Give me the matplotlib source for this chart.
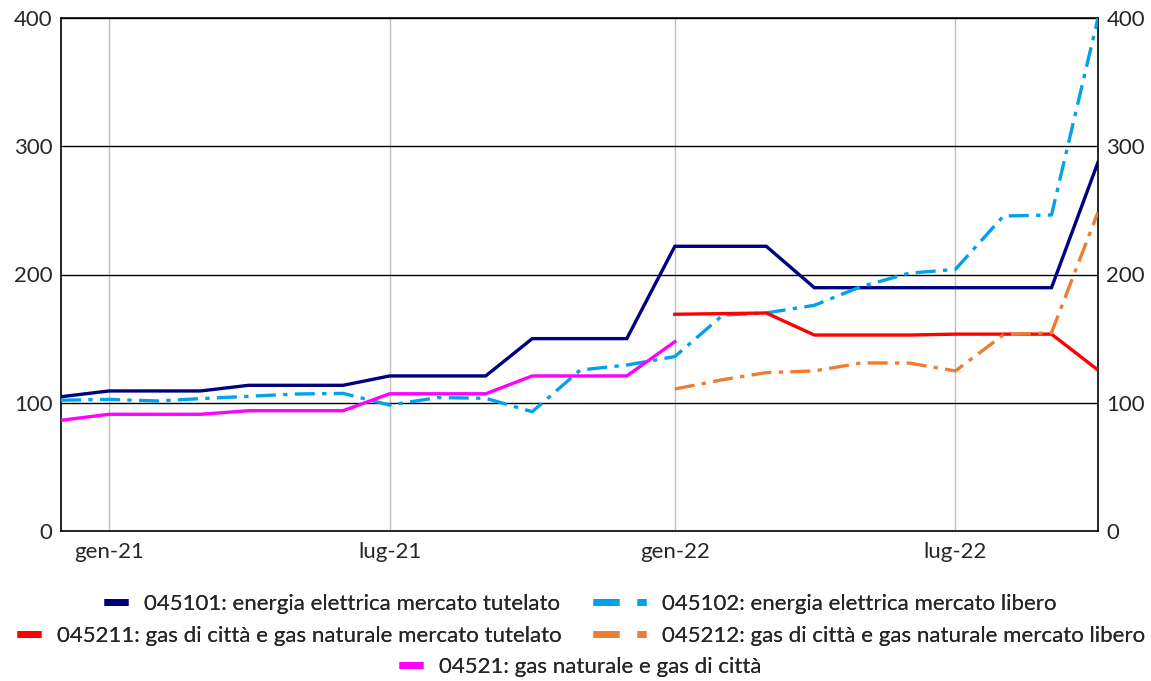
import numpy as np
import pandas as pd
import matplotlib
matplotlib.use("Agg")
import matplotlib.pyplot as plt
from matplotlib.lines import Line2D

plt.rcParams['font.family'] = ['Lato', 'DejaVu Sans']

months = pd.date_range('2020-12-01', '2022-10-01', freq='MS')
nan = np.nan

s045101 = [104.7, 109.2, 109.2, 109.2, 113.6, 113.6, 113.6, 120.9, 120.9, 120.9,
           150.0, 150.0, 150.0, 222.0, 222.0, 222.0, 189.7, 189.7, 189.7, 189.7,
           189.7, 189.7, 287.5]
s045102 = [102.0, 102.6, 101.4, 103.2, 105.0, 106.8, 107.3, 98.2, 104.0, 103.5,
           93.0, 125.5, 129.4, 136.0, 168.4, 170.0, 176.0, 190.5, 201.0, 204.0,
           245.6, 246.4, 400.0]
s045211 = [nan] * 13 + [169.0, 169.5, 170.0, 152.8, 152.8, 152.8, 153.5, 153.5,
                        153.5, 125.5]
s045212 = [nan] * 13 + [110.7, 118.0, 123.5, 124.8, 131.0, 131.0, 124.8, 153.0,
                        154.6, 248.6]
s04521 = [86.3, 91.0, 91.0, 91.0, 93.8, 93.8, 93.8, 107.0, 107.0, 107.0,
          120.9, 120.9, 120.9, 147.6] + [nan] * 9

labels = ["045101: energia elettrica mercato tutelato",
          "045102: energia elettrica mercato libero",
          "045211: gas di città e gas naturale mercato tutelato",
          "045212: gas di città e gas naturale mercato libero",
          "04521: gas naturale e gas di città"]
colors = ["#000080", "#00A2E8", "#FF0000", "#ED7D31", "#FF00FF"]
series = [s045101, s045102, s045211, s045212, s04521]

xtick_dates = pd.to_datetime(['2021-01-01', '2021-07-01', '2022-01-01', '2022-07-01'])
xtick_labels = ['gen-21', 'lug-21', 'gen-22', 'lug-22']
yticks = [0, 100, 200, 300, 400]

W, H = 1151, 681
dashdot = (0, (6, 2.2, 1.3, 2.2))
styles = ['-', dashdot, '-', dashdot, '-']

fig = plt.figure(figsize=(W / 100, H / 100), dpi=100)
ax = fig.add_axes([61 / W, 1 - 531 / H, (1098 - 61) / W, (531 - 18) / H])

for yv in yticks[1:]:
    ax.axhline(yv, color='black', lw=1.0, zorder=1)
for xd in xtick_dates:
    ax.axvline(xd, color='#BFBFBF', lw=1.0, zorder=0.5)

for s, c, ls in zip(series, colors, styles):
    ax.plot(months, s, color=c, lw=2.4, linestyle=ls, zorder=3,
            solid_joinstyle='miter', dash_capstyle='butt')

ax.set_xlim(months[0], months[-1])
ax.set_ylim(0, 400)
ax.set_yticks(yticks)
ax.set_yticklabels([str(v) for v in yticks], fontsize=16, color='#262626')
ax.set_xticks(xtick_dates)
ax.set_xticklabels(xtick_labels, fontsize=16, color='#262626')
ax.tick_params(axis='both', length=0)
ax.tick_params(axis='x', pad=8)
ax.tick_params(axis='y', pad=6)
for sp in ax.spines.values():
    sp.set_color('black')
    sp.set_linewidth(1.2)

ax2 = ax.twinx()
ax2.set_ylim(0, 400)
ax2.set_yticks(yticks)
ax2.set_yticklabels([str(v) for v in yticks], fontsize=16, color='#262626')
ax2.tick_params(axis='y', length=0, pad=6)
for sp in ax2.spines.values():
    sp.set_visible(False)

solid_h = lambda c: Line2D([0], [0], color=c, lw=5, solid_capstyle='butt')
dash_h = lambda c: Line2D([0], [0], color=c, lw=5, dash_capstyle='butt',
                          linestyle=(0, (3.74, 2.6, 1.3, 10)))

legend_fs = 16
# (handle, label, loc, x_px, y_px, handlelength)
entries = [
    (solid_h(colors[0]), labels[0], 'center right', 560, 604, 1.08),
    (dash_h(colors[1]), labels[1], 'center left', 593, 604, 2.4),
    (solid_h(colors[2]), labels[2], 'center right', 562, 636, 1.08),
    (dash_h(colors[3]), labels[3], 'center left', 593, 636, 2.4),
    (solid_h(colors[4]), labels[4], 'center', 580, 667, 1.08),
]
for h, lab, loc, xp, yp, hl in entries:
    lg = fig.legend([h], [lab], loc=loc, bbox_to_anchor=(xp / W, 1 - yp / H),
                    frameon=False, fontsize=legend_fs, handlelength=hl,
                    handletextpad=0.72, borderpad=0, borderaxespad=0)
    for t in lg.get_texts():
        t.set_color('#262626')
    fig.add_artist(lg)

fig.savefig('out.png', dpi=100)
